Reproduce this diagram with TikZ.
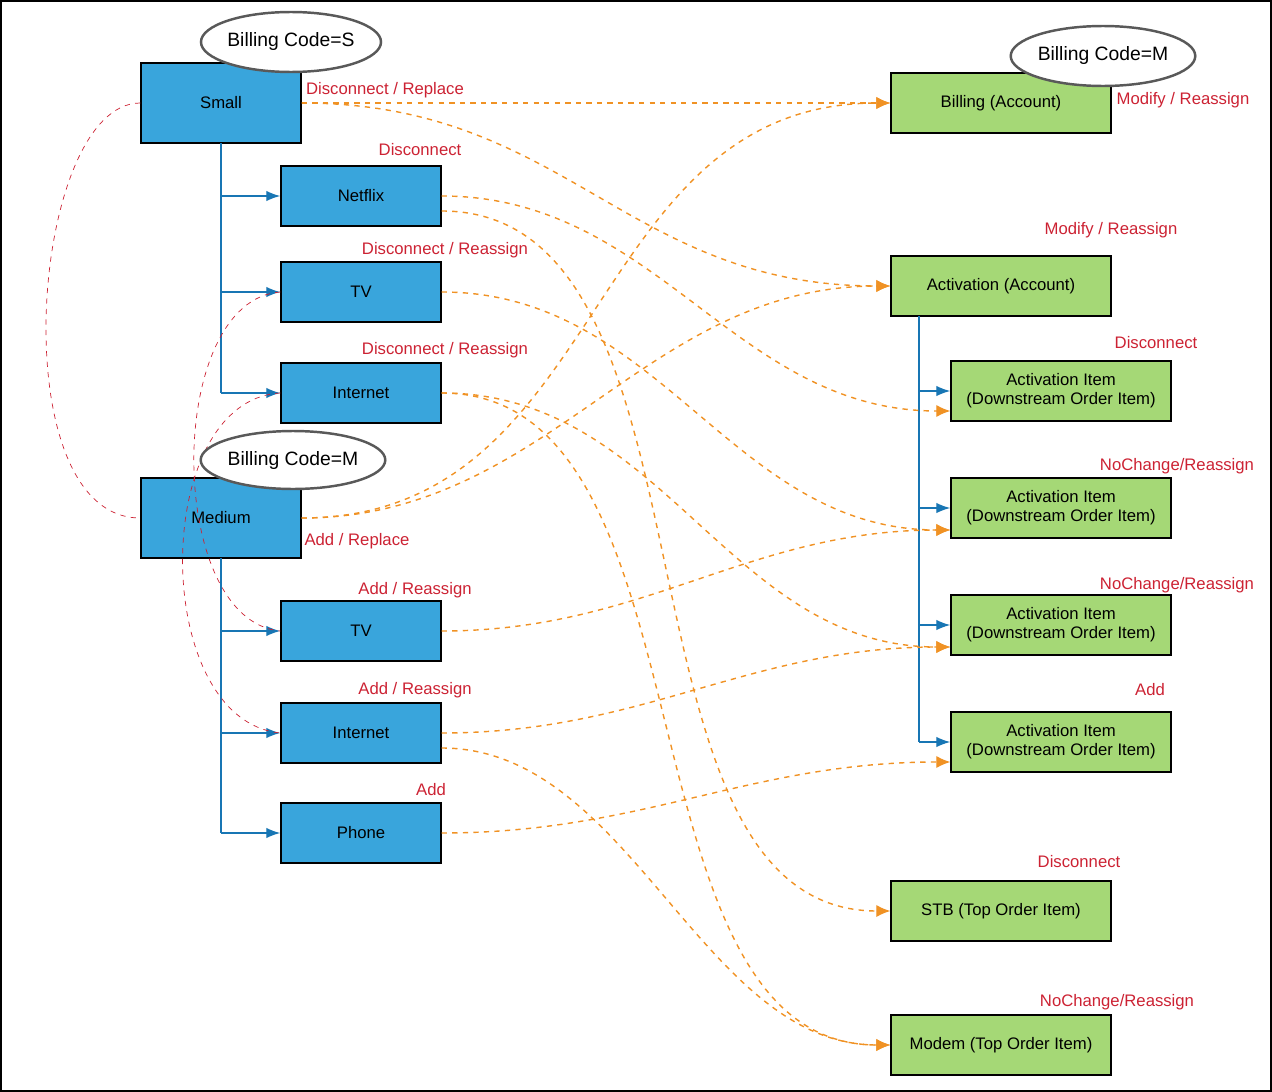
\documentclass[tikz,border=0pt]{standalone}
\usepackage{fontspec}
\setmainfont{Liberation Sans}
\usetikzlibrary{arrows.meta,positioning,calc,shapes.geometric}
\definecolor{boxblue}{RGB}{57,165,220}
\definecolor{boxgreen}{RGB}{165,216,118}
\definecolor{lineblue}{RGB}{24,118,180}
\definecolor{flow}{RGB}{240,146,36}
\definecolor{tag}{RGB}{204,34,51}
\tikzset{
 blue box/.style={draw=black,thick,fill=boxblue,minimum width=3.2cm,minimum height=1.2cm,font=\fontsize{9.5}{11}\selectfont},
 big box/.style={blue box,minimum height=1.6cm},
 green box/.style={draw=black,thick,fill=boxgreen,minimum width=4.4cm,minimum height=1.2cm,align=center,font=\fontsize{9.5}{11}\selectfont},
 code/.style={draw=black!65,line width=1.4pt,ellipse,fill=white,minimum width=3.4cm,minimum height=1.2cm,inner sep=0pt,font=\fontsize{11}{13}\selectfont},
 tag/.style={text=tag,font=\fontsize{9.5}{11}\selectfont,inner sep=1pt},
 tree/.style={lineblue,thick,-{Latex[length=8pt,width=6pt]}},
 link/.style={flow,thick,dashed,-{Latex[length=8pt,width=7pt]}},
 pair/.style={draw=tag,thin,dashed}
}
\begin{document}
\begin{tikzpicture}[x=0.02cm,y=-0.02cm]
 \useasboundingbox (0,0) rectangle (1272,1092);
 \draw[thick] (1,1) rectangle (1271,1091);
 % left side
 \node[big box] (small) at (221,103) {Small};
 \node[blue box] (netflix) at (361,196) {Netflix};
 \node[blue box] (tvS) at (361,292) {TV};
 \node[blue box] (netS) at (361,393) {Internet};
 \node[big box] (medium) at (221,518) {Medium};
 \node[blue box] (tvM) at (361,631) {TV};
 \node[blue box] (netM) at (361,733) {Internet};
 \node[blue box] (phone) at (361,833) {Phone};
 % right side
 \node[green box] (billing) at (1001,103) {Billing (Account)};
 \node[green box] (activation) at (1001,286) {Activation (Account)};
 \node[green box] (itemA) at (1061,391) {Activation Item\\(Downstream Order Item)};
 \node[green box] (itemB) at (1061,508) {Activation Item\\(Downstream Order Item)};
 \node[green box] (itemC) at (1061,625) {Activation Item\\(Downstream Order Item)};
 \node[green box] (itemD) at (1061,742) {Activation Item\\(Downstream Order Item)};
 \node[green box] (stb) at (1001,911) {STB (Top Order Item)};
 \node[green box] (modem) at (1001,1045) {Modem (Top Order Item)};
 % billing codes
 \node[code] (codeS) at (291,42) {Billing Code=S};
 \node[code,minimum width=3.64cm] (codeB) at (1103,56) {Billing Code=M};
 % trees
 \coordinate (smallRoot) at (221,143);
 \coordinate (mediumRoot) at (221,558);
 \coordinate (actRoot) at (919,316);
 \draw[lineblue,thick] (smallRoot) -- (221,393);
 \foreach \n in {netflix,tvS,netS} \draw[tree] (smallRoot |- \n.west) -- (\n.west);
 \draw[lineblue,thick] (mediumRoot) -- (221,833);
 \foreach \n in {tvM,netM,phone} \draw[tree] (mediumRoot |- \n.west) -- (\n.west);
 \draw[lineblue,thick] (actRoot) -- (919,742);
 \foreach \n in {itemA,itemB,itemC,itemD} \draw[tree] (actRoot |- \n.west) -- (\n.west);
 % pairings
 \draw[pair] (small.west) .. controls (30,103) and (0,518) .. (medium.west);
 \draw[pair] (tvS.west) .. controls (165,300) and (165,620) .. (tvM.west);
 \draw[pair] (netS.west) .. controls (150,400) and (150,720) .. (netM.west);
 % flows
 \draw[link] (small.east) -- (billing.west);
 \draw[link] (small.east) to[out=0,in=180,looseness=1.1] (activation.west);
 \draw[link] (netflix.east) to[out=0,in=180] ([yshift=-0.4cm]itemA.west);
 \draw[link] ([yshift=-0.3cm]netflix.east) to[out=0,in=180,looseness=0.9] (stb.west);
 \draw[link] (tvS.east) to[out=0,in=180] ([yshift=-0.44cm]itemB.west);
 \draw[link] (netS.east) to[out=0,in=180] ([yshift=-0.44cm]itemC.west);
 \draw[link] (netS.east) to[out=0,in=180,looseness=0.9] (modem.west);
 \draw[link] (medium.east) to[out=0,in=180,looseness=1.1] (billing.west);
 \draw[link] (medium.east) to[out=0,in=180] (activation.west);
 \draw[link] (tvM.east) to[out=0,in=180] ([yshift=-0.44cm]itemB.west);
 \draw[link] (netM.east) to[out=0,in=180] ([yshift=-0.44cm]itemC.west);
 \draw[link] ([yshift=-0.3cm]netM.east) to[out=0,in=180,looseness=0.9] (modem.west);
 \draw[link] (phone.east) to[out=0,in=180] ([yshift=-0.4cm]itemD.west);
 \node[code,minimum width=3.44cm,minimum height=1.16cm] (codeM) at (293,460) {Billing Code=M};
 % tags
 \node[tag] at (385,90) {Disconnect / Replace};
 \node[tag] at (1183,100) {Modify / Reassign};
 \node[tag] at (420,150) {Disconnect};
 \node[tag] at (445,250) {Disconnect / Reassign};
 \node[tag] at (1111,230) {Modify / Reassign};
 \node[tag] at (445,350) {Disconnect / Reassign};
 \node[tag] at (1156,343) {Disconnect};
 \node[tag] at (357,541) {Add / Replace};
 \node[tag] at (1177,466) {NoChange/Reassign};
 \node[tag] at (415,590) {Add / Reassign};
 \node[tag] at (1177,585) {NoChange/Reassign};
 \node[tag] at (415,690) {Add / Reassign};
 \node[tag] at (1150,690) {Add};
 \node[tag] at (431,790) {Add};
 \node[tag] at (1079,862) {Disconnect};
 \node[tag] at (1117,1002) {NoChange/Reassign};
\end{tikzpicture}
\end{document}
